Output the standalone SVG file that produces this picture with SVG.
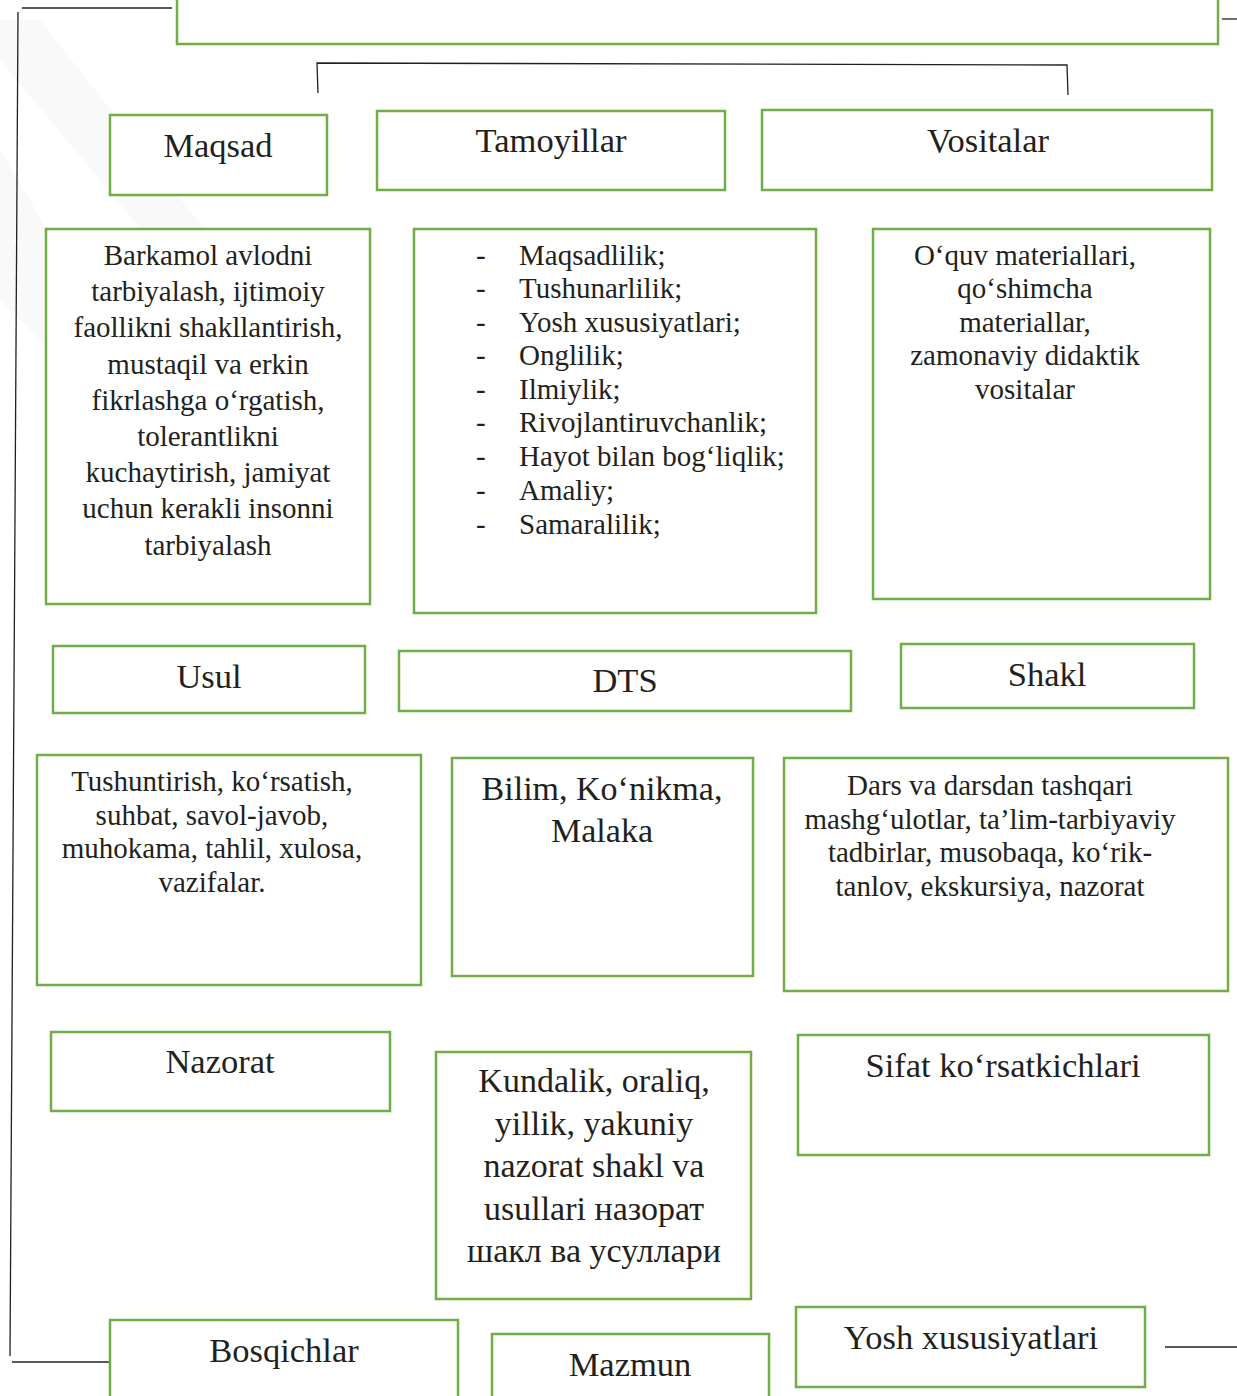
<svg xmlns="http://www.w3.org/2000/svg" width="1237" height="1396" viewBox="0 0 1237 1396">
<style>
.box{fill:#fff;stroke:#70ad47;stroke-width:2.5}
.ln{fill:none;stroke:#231f20;stroke-width:1.3}
text{font-family:"Liberation Serif","Times New Roman",serif;fill:#231f20}
.h{font-size:34.5px;text-anchor:middle}
.t{font-size:29px;text-anchor:middle}
.l{font-size:29px}
.b{font-size:34px;text-anchor:middle}
</style>
<rect width="1237" height="1396" fill="#fff"/>
<g id="bg" fill="#f6f6f6" opacity="0.6">
<polygon points="0,20 40,20 260,300 200,300 0,60"/>
<polygon points="0,150 0,300 120,420 160,420"/>
</g>
<g id="connectors">
<polyline class="ln" points="22,8 172,8"/>
<polyline class="ln" points="18,12 10,1356"/>
<polyline class="ln" points="12,1362 113,1362"/>
<polyline class="ln" points="1222,19 1237,19"/>
<polyline class="ln" points="1165,1347 1237,1347" stroke="#777"/>
<polyline class="ln" points="318,93 317,63 1067,65 1068,95"/>
</g>
<g id="title"><rect class="box" x="177" y="-10" width="1041" height="54"/></g>
<g id="maqsad"><rect class="box" x="110" y="115" width="217" height="80"/><text class="h" x="218" y="157">Maqsad</text></g>
<g id="tamoyillar"><rect class="box" x="377" y="111" width="348" height="79"/><text class="h" x="551" y="152">Tamoyillar</text></g>
<g id="vositalar"><rect class="box" x="762" y="110" width="450" height="80"/><text class="h" x="988" y="152">Vositalar</text></g>
<g id="maqsad-content"><rect class="box" x="46" y="229" width="324" height="375"/>
<text class="t" x="208" y="265">Barkamol avlodni</text>
<text class="t" x="208" y="301">tarbiyalash, ijtimoiy</text>
<text class="t" x="208" y="337">faollikni shakllantirish,</text>
<text class="t" x="208" y="374">mustaqil va erkin</text>
<text class="t" x="208" y="410">fikrlashga o‘rgatish,</text>
<text class="t" x="208" y="446">tolerantlikni</text>
<text class="t" x="208" y="482">kuchaytirish, jamiyat</text>
<text class="t" x="208" y="518">uchun kerakli insonni</text>
<text class="t" x="208" y="555">tarbiyalash</text>
</g>
<g id="tamoyillar-content"><rect class="box" x="414" y="229" width="402" height="384"/>
<g class="l">
<text x="476" y="265">-</text><text x="519" y="265">Maqsadlilik;</text>
<text x="476" y="298">-</text><text x="519" y="298">Tushunarlilik;</text>
<text x="476" y="332">-</text><text x="519" y="332">Yosh xususiyatlari;</text>
<text x="476" y="365">-</text><text x="519" y="365">Onglilik;</text>
<text x="476" y="399">-</text><text x="519" y="399">Ilmiylik;</text>
<text x="476" y="432">-</text><text x="519" y="432">Rivojlantiruvchanlik;</text>
<text x="476" y="466">-</text><text x="519" y="466">Hayot bilan bog‘liqlik;</text>
<text x="476" y="500">-</text><text x="519" y="500">Amaliy;</text>
<text x="476" y="534">-</text><text x="519" y="534">Samaralilik;</text>
</g>
</g>
<g id="vositalar-content"><rect class="box" x="873" y="229" width="337" height="370"/>
<text class="t" x="1025" y="265">O‘quv materiallari,</text>
<text class="t" x="1025" y="298">qo‘shimcha</text>
<text class="t" x="1025" y="332">materiallar,</text>
<text class="t" x="1025" y="365">zamonaviy didaktik</text>
<text class="t" x="1025" y="399">vositalar</text>
</g>
<g id="usul"><rect class="box" x="53" y="646" width="312" height="67"/><text class="h" x="209" y="688">Usul</text></g>
<g id="dts"><rect class="box" x="399" y="651" width="452" height="60"/><text class="h" x="625" y="692">DTS</text></g>
<g id="shakl"><rect class="box" x="901" y="644" width="293" height="64"/><text class="h" x="1047" y="686">Shakl</text></g>
<g id="usul-content"><rect class="box" x="37" y="755" width="384" height="230"/>
<text class="t" x="212" y="791">Tushuntirish, ko‘rsatish,</text>
<text class="t" x="212" y="825">suhbat, savol-javob,</text>
<text class="t" x="212" y="858">muhokama, tahlil, xulosa,</text>
<text class="t" x="212" y="892">vazifalar.</text>
</g>
<g id="dts-content"><rect class="box" x="452" y="758" width="301" height="218"/>
<text class="b" x="602" y="800">Bilim, Ko‘nikma,</text>
<text class="b" x="602" y="842">Malaka</text>
</g>
<g id="shakl-content"><rect class="box" x="784" y="758" width="444" height="233"/>
<text class="t" x="990" y="795">Dars va darsdan tashqari</text>
<text class="t" x="990" y="829">mashg‘ulotlar, ta’lim-tarbiyaviy</text>
<text class="t" x="990" y="862">tadbirlar, musobaqa, ko‘rik-</text>
<text class="t" x="990" y="896">tanlov, ekskursiya, nazorat</text>
</g>
<g id="nazorat"><rect class="box" x="51" y="1032" width="339" height="79"/><text class="h" x="220" y="1073">Nazorat</text></g>
<g id="nazorat-content"><rect class="box" x="436" y="1052" width="315" height="247"/>
<text class="b" x="594" y="1092">Kundalik, oraliq,</text>
<text class="b" x="594" y="1135">yillik, yakuniy</text>
<text class="b" x="594" y="1177">nazorat shakl va</text>
<text class="b" x="594" y="1220">usullari назорат</text>
<text class="b" x="594" y="1262">шакл ва усуллари</text>
</g>
<g id="sifat"><rect class="box" x="798" y="1035" width="411" height="120"/><text class="h" x="1003" y="1077">Sifat ko‘rsatkichlari</text></g>
<g id="bosqichlar"><rect class="box" x="110" y="1320" width="348" height="90"/><text class="h" x="284" y="1362">Bosqichlar</text></g>
<g id="mazmun"><rect class="box" x="492" y="1334" width="277" height="80"/><text class="h" x="630" y="1376">Mazmun</text></g>
<g id="yosh"><rect class="box" x="796" y="1307" width="349" height="80"/><text class="h" x="971" y="1349">Yosh xususiyatlari</text></g>
</svg>
